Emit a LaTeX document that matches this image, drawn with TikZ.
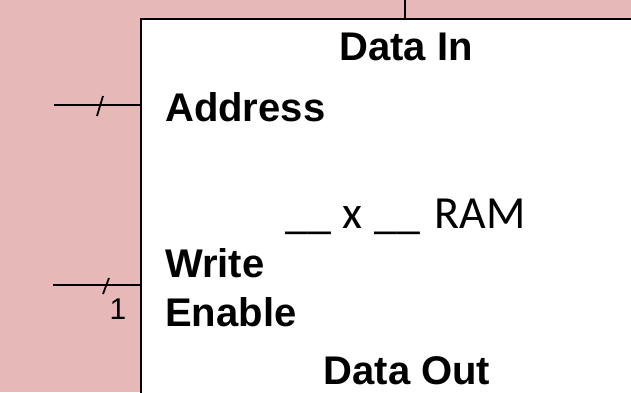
\documentclass[tikz,border=0pt]{standalone}
\usepackage{fontspec}
\setmainfont{Liberation Sans}
\newfontfamily\calibrifont{Carlito}
\definecolor{bgpink}{HTML}{E6B8B7}
\begin{document}
\begin{tikzpicture}[x=1pt,y=-1pt,
  wire/.style={line width=1.8pt},
  lbl/.style={font=\fontsize{40}{40}\selectfont\bfseries, inner sep=0pt, anchor=base west},
  ]
\useasboundingbox (0,0) rectangle (631,392);
\clip (0,0) rectangle (631,392);
\fill[bgpink] (0,0) rectangle (631,392);
\node[draw, line width=1.8pt, fill=white, minimum width=560pt, minimum height=440pt,
      anchor=north west, inner sep=0pt] (ram) at (140,18) {};
% top wire (Data In)
\coordinate (topin) at (405,-2);
\draw[wire] (topin) -- (topin |- ram.north);
% labels
\node[lbl, anchor=base] (din) at (406,60) {Data In};
\node[lbl] (addr) at (165,121) {Address};
\node[lbl] (wr) at (165,277) {Write};
\node[lbl] (en) at (165,326) {Enable};
\node[lbl, anchor=base] (dout) at (407,384) {Data Out};
\node[font=\calibrifont\fontsize{46}{46}\selectfont, anchor=base west, inner sep=0pt] (title) at (285,228)
  {\_\_\hspace{12pt}x\hspace{12pt}\_\_\hspace{14pt}RAM};
% address wire
\coordinate (ain) at (54,105);
\draw[wire] (ain) -- (ain -| ram.west);
\draw[wire] (97,116) -- (103,96);
% write enable wire
\coordinate (wein) at (53,285);
\draw[wire] (wein) -- (wein -| ram.west);
\draw[wire] (103,294) -- (109,278);
\node[font=\fontsize{30}{30}\selectfont, anchor=base, inner sep=0pt] (one) at (118,319) {1};
\end{tikzpicture}
\end{document}
